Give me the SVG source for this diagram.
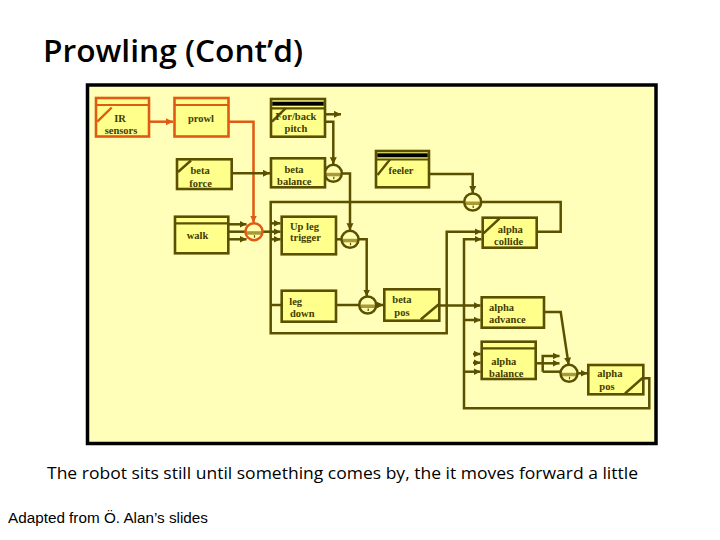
<svg xmlns="http://www.w3.org/2000/svg" xmlns:xlink="http://www.w3.org/1999/xlink" width="720" height="540" viewBox="0 0 720 540">
<style>
.box{fill:#FFFF8C;stroke:#5A5000;stroke-width:2.6}
.obox{fill:#FFFF8C;stroke:#E05A14;stroke-width:2.6}
.hl{stroke:#5A5000;stroke-width:2.2;fill:none}
.ohl{stroke:#E05A14;stroke-width:2.2;fill:none}
.bar{fill:#000}
.sl{stroke:#5A5000;stroke-width:2.4;fill:none}
.osl{stroke:#E05A14;stroke-width:2.4;fill:none}
.t{font-family:"Liberation Serif","DejaVu Serif",serif;font-weight:bold;font-size:10.5px;fill:#453C00}
.c{fill:none;stroke:#5A5000;stroke-width:2.5;stroke-linejoin:miter}
.co{fill:none;stroke:#E05A14;stroke-width:2.5}
.a{marker-end:url(#ah)}
.ao{marker-end:url(#aho)}
</style>
<defs>
<marker id="ah" markerUnits="userSpaceOnUse" markerWidth="8" markerHeight="8" refX="7" refY="3.5" orient="auto"><path d="M0,0 L7,3.5 L0,7 z" fill="#5A5000"/></marker>
<marker id="aho" markerUnits="userSpaceOnUse" markerWidth="8" markerHeight="8" refX="7" refY="3.5" orient="auto"><path d="M0,0 L7,3.5 L0,7 z" fill="#E05A14"/></marker>
<g id="sup">
<circle r="8.5" fill="#FFFFB0"/>
<rect x="-7.5" y="-0.5" width="15" height="3.5" fill="#A89A34"/>
<line x1="0.5" y1="3.5" x2="0.5" y2="6" stroke="#5A5000" stroke-width="1.2"/>
<circle r="8.5" fill="none" stroke="currentColor" stroke-width="2.5"/>
</g>
</defs>
<rect width="720" height="540" fill="#FFFFFF"/>
<text x="43" y="62" font-family="'Open Sans','Noto Sans',sans-serif" font-weight="600" font-size="30" textLength="260" lengthAdjust="spacingAndGlyphs" fill="#000">Prowling (Cont’d)</text>
<rect x="87.5" y="85" width="568.5" height="358.5" fill="#FFFFB9" stroke="#000" stroke-width="3.5"/>

<g id="connectors">
<path class="co ao" d="M149,121.7 H173"/>
<path class="co ao" d="M228.3,121.7 H253.5 V222.5"/>
<path class="c a" d="M231.7,173.3 H270"/>
<path class="c a" d="M325,114.3 H341"/>
<path class="c a" d="M325,121.7 H333.3 V164.3"/>
<path class="c a" d="M342,173.5 H350 V230.3"/>
<path class="c a" d="M429,174 H472.7 V193"/>
<path class="c a" d="M536.7,231.7 H560.7 V202 H270.7 V333.3 H446.7 V231.7 H481.5"/>
<path class="c a" d="M270.7,223.3 H280.5"/>
<path class="c a" d="M270.7,239.3 H280.5"/>
<path class="c a" d="M270.7,305 H288"/>
<path class="c a" d="M228.3,224.3 H246.5"/>
<path class="c a" d="M228.3,239.3 H246.5"/>
<path class="c" d="M228.3,231.7 H246"/>
<path class="c a" d="M262.5,231.7 H280.5"/>
<path class="c" d="M336,239.3 H342"/>
<path class="c a" d="M358.5,239.3 H366.7 V296.5"/>
<path class="c" d="M336,305 H359.5"/>
<path class="c a" d="M376.2,305 H383.5"/>
<path class="c a" d="M439.3,305.5 H480.5"/>
<path class="c a" d="M643.3,378.3 H649.3 V408.3 H464 V239.3 H481.5"/>
<path class="c a" d="M464,320 H480.5"/>
<path class="c a" d="M464,371.7 H480.5"/>
<path class="c a" d="M473,354 H480.5"/>
<path class="c a" d="M473,362.7 H480.5"/>
<path class="c a" d="M544,312 H560.7 L568.6,364.6"/>
<path class="c a" d="M535.7,363.3 H559.5"/>
<path class="c a" d="M542.7,371.7 V356 H559.5"/>
<path class="c" d="M542.7,371.7 H561"/>
<path class="c a" d="M577.5,373.3 H587.5"/>
</g>

<g id="s-walk"><use xlink:href="#sup" x="254" y="231.7" color="#E05A14"/></g>
<g id="s-bbal"><use xlink:href="#sup" x="333.3" y="173.3" color="#5A5000"/></g>
<g id="s-coll"><use xlink:href="#sup" x="472.7" y="202" color="#5A5000"/></g>
<g id="s-ul"><use xlink:href="#sup" x="350" y="239.3" color="#5A5000"/></g>
<g id="s-ld"><use xlink:href="#sup" x="367.7" y="305" color="#5A5000"/></g>
<g id="s-apos"><use xlink:href="#sup" x="569" y="373.3" color="#5A5000"/></g>

<g id="ir-sensors">
<rect class="obox" x="96" y="98" width="53" height="38.5"/>
<line class="ohl" x1="96" y1="105" x2="149" y2="105"/>
<line class="osl" x1="97.3" y1="121.7" x2="111.7" y2="107.5"/>
<text class="t" x="120" y="121.7" text-anchor="middle">IR</text>
<text class="t" x="121" y="134" text-anchor="middle">sensors</text>
</g>
<g id="prowl">
<rect class="obox" x="174.5" y="98" width="54" height="38.5"/>
<line class="ohl" x1="174.5" y1="105" x2="228.5" y2="105"/>
<text class="t" x="201" y="121.7" text-anchor="middle">prowl</text>
</g>
<g id="forback-pitch">
<rect class="box" x="271" y="99" width="54" height="37.7"/>
<rect class="bar" x="272.3" y="101.7" width="51.4" height="4"/>
<line class="hl" x1="271" y1="108.3" x2="325" y2="108.3"/>
<line class="sl" x1="272" y1="121.7" x2="285.5" y2="108.3"/>
<text class="t" x="296" y="119.5" text-anchor="middle">For/back</text>
<text class="t" x="296" y="131.7" text-anchor="middle">pitch</text>
</g>
<g id="beta-force">
<rect class="box" x="177" y="159.3" width="54.7" height="29.7"/>
<line class="sl" x1="178" y1="172" x2="191" y2="160.5"/>
<text class="t" x="190.5" y="174">beta</text>
<text class="t" x="189.3" y="186.7">force</text>
</g>
<g id="beta-balance">
<rect class="box" x="271" y="158.3" width="54" height="29"/>
<text class="t" x="294" y="173.3" text-anchor="middle">beta</text>
<text class="t" x="294.3" y="184.8" text-anchor="middle">balance</text>
</g>
<g id="feeler">
<rect class="box" x="376" y="151" width="53" height="36.3"/>
<rect class="bar" x="377.3" y="153.3" width="50.4" height="4"/>
<line class="hl" x1="376" y1="159.5" x2="429" y2="159.5"/>
<line class="sl" x1="377.5" y1="175" x2="390" y2="159.5"/>
<text class="t" x="401" y="173.5" text-anchor="middle">feeler</text>
</g>
<g id="walk">
<rect class="box" x="175" y="216.7" width="53.3" height="36.6"/>
<line class="hl" x1="175" y1="223.3" x2="228.3" y2="223.3"/>
<text class="t" x="197.5" y="239.3" text-anchor="middle">walk</text>
</g>
<g id="up-leg-trigger">
<rect class="box" x="281.7" y="216.7" width="54.3" height="37.6"/>
<text class="t" x="290" y="230">Up leg</text>
<text class="t" x="290" y="241.2">trigger</text>
</g>
<g id="leg-down">
<rect class="box" x="281.7" y="290.7" width="54.3" height="31"/>
<text class="t" x="289.3" y="304.5">leg</text>
<text class="t" x="290" y="316.7">down</text>
</g>
<g id="beta-pos">
<rect class="box" x="384.3" y="289.3" width="55" height="31.4"/>
<line class="sl" x1="420.7" y1="319.5" x2="438.5" y2="304.5"/>
<text class="t" x="392.3" y="303.3">beta</text>
<text class="t" x="394.3" y="315.7">pos</text>
</g>
<g id="alpha-collide">
<rect class="box" x="482.7" y="217.7" width="54" height="30"/>
<line class="sl" x1="483.5" y1="233.3" x2="499.5" y2="218.5"/>
<text class="t" x="510.3" y="233.3" text-anchor="middle">alpha</text>
<text class="t" x="508.7" y="245" text-anchor="middle">collide</text>
</g>
<g id="alpha-advance">
<rect class="box" x="481.7" y="297.3" width="62.3" height="30.4"/>
<text class="t" x="489" y="311">alpha</text>
<text class="t" x="489" y="322.7">advance</text>
</g>
<g id="alpha-balance">
<rect class="box" x="481.7" y="341.7" width="54" height="37.3"/>
<line class="hl" x1="481.7" y1="348.3" x2="535.7" y2="348.3"/>
<text class="t" x="503.7" y="365" text-anchor="middle">alpha</text>
<text class="t" x="506.3" y="376.5" text-anchor="middle">balance</text>
</g>
<g id="alpha-pos">
<rect class="box" x="588.3" y="365" width="55" height="29.3"/>
<line class="sl" x1="625" y1="393.5" x2="642.5" y2="378"/>
<text class="t" x="597.3" y="377.3">alpha</text>
<text class="t" x="599.3" y="390">pos</text>
</g>

<text x="47" y="479" font-family="'Open Sans','Noto Sans',sans-serif" font-size="17" textLength="591" lengthAdjust="spacingAndGlyphs" fill="#000">The robot sits still until something comes by, the it moves forward a little</text>
<text x="8" y="523" font-family="'Liberation Sans',Arial,sans-serif" font-size="14" textLength="200" lengthAdjust="spacingAndGlyphs" fill="#000">Adapted from Ö. Alan’s slides</text>
</svg>
